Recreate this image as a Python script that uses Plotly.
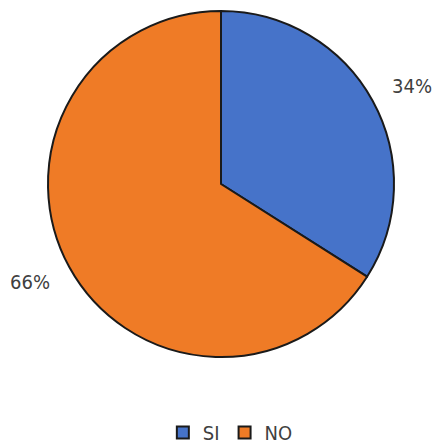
import math
import plotly.graph_objects as go

labels = ["SI", "NO"]
values = [34, 66]
colors = ["#4673c9", "#ef7b26"]

W, H = 432, 446
ml, mr, mt, mb = 48, 38, 11, 89
FONT = "DejaVu Sans Condensed, Liberation Sans, sans-serif"

fig = go.Figure(go.Pie(
    labels=labels,
    values=values,
    sort=False,
    direction="clockwise",
    rotation=0,
    marker=dict(colors=colors, line=dict(color="#1a1a1a", width=2)),
    textinfo="none",
    hoverinfo="label+percent",
))

# percentage labels placed outside each slice, slightly past its mid-angle
total = sum(values)
cum = 0
annotations = []
for v in values:
    mid = (cum + v / 2) / total * 2 * math.pi + 0.03
    cum += v
    r = 0.62
    x = 0.5 + r * math.sin(mid)
    y = 0.5 + r * math.cos(mid)
    annotations.append(dict(
        x=x, y=y, xref="paper", yref="paper",
        text=f"{round(v / total * 100)}%", showarrow=False,
        font=dict(family=FONT, size=20, color="#404040"),
        xanchor="center", yanchor="middle",
    ))

fig.update_layout(
    width=W, height=H,
    margin=dict(l=ml, r=mr, t=mt, b=mb, autoexpand=False),
    paper_bgcolor="white",
    plot_bgcolor="white",
    annotations=annotations,
    legend=dict(
        orientation="h",
        x=0.527, xanchor="center",
        y=-0.218, yanchor="middle",
        font=dict(family=FONT, size=20, color="#404040"),
        itemwidth=30,
        tracegroupgap=0,
    ),
)

fig.write_html("out.html")
